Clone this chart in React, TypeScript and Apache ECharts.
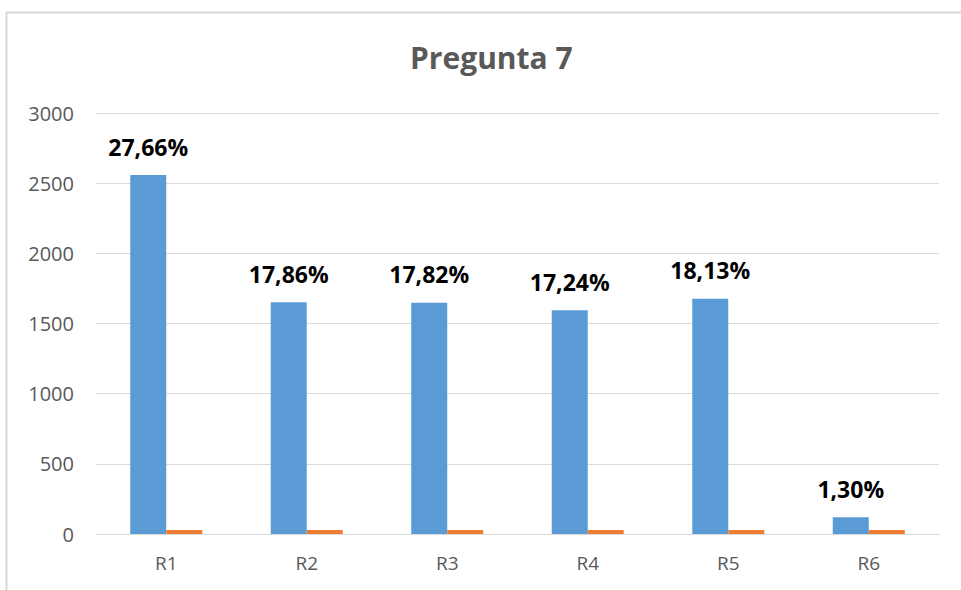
import React, { useEffect, useRef } from "react";
import * as echarts from "echarts";

const categories = ["R1", "R2", "R3", "R4", "R5", "R6"];
const countValues = [2558, 1652, 1648, 1594, 1677, 120];
const secondValues = [28, 28, 28, 28, 28, 28];
const percentLabels = ["27,66%", "17,86%", "17,82%", "17,24%", "18,13%", "1,30%"];
const yTicks = { min: 0, max: 3000, interval: 500 };

export default function App() {
  const ref = useRef<HTMLDivElement>(null);
  useEffect(() => {
    if (!ref.current) return;
    const chart = echarts.init(ref.current, undefined, { renderer: "svg" });
    const font = "'Open Sans', 'Noto Sans', sans-serif";
    chart.setOption({
      animation: false,
      backgroundColor: "#ffffff",
      title: {
        text: "Pregunta 7",
        left: 405,
        top: 37,
        textStyle: { fontFamily: font, fontSize: 30, fontWeight: "bold", color: "#595959" },
      },
      graphic: [
        {
          type: "rect",
          shape: { x: 6.5, y: 12.5, width: 980, height: 600 },
          style: { fill: "none", stroke: "#d9d9d9", lineWidth: 2 },
          silent: true,
        },
      ],
      grid: { left: 96, right: 22, top: 113, bottom: 56 },
      xAxis: {
        type: "category",
        data: categories,
        axisLine: { lineStyle: { color: "#d9d9d9", width: 1 } },
        axisTick: { show: false },
        axisLabel: { fontFamily: font, fontSize: 19, color: "#595959", margin: 19 },
      },
      yAxis: {
        type: "value",
        min: yTicks.min,
        max: yTicks.max,
        interval: yTicks.interval,
        axisLine: { show: false },
        axisTick: { show: false },
        splitLine: { lineStyle: { color: "#d9d9d9", width: 1 } },
        axisLabel: {
          fontFamily: font,
          fontSize: 20,
          color: "#595959",
          margin: 22,
          formatter: (v: number) => String(v),
        },
      },
      series: [
        {
          type: "bar",
          data: countValues,
          barWidth: 36,
          barGap: "0%",
          itemStyle: { color: "#5b9bd5" },
          label: {
            show: true,
            position: "top",
            distance: 17,
            fontFamily: font,
            fontSize: 23,
            fontWeight: "bold",
            color: "#000000",
            formatter: (p: any) => percentLabels[p.dataIndex],
          },
        },
        {
          type: "bar",
          data: secondValues,
          barWidth: 36,
          barGap: "0%",
          itemStyle: { color: "#ed7d31" },
        },
      ],
    });
    return () => chart.dispose();
  }, []);
  return (
    <div
      ref={ref}
      style={{ position: "fixed", left: 0, top: 0, width: 961, height: 590 }}
    />
  );
}
